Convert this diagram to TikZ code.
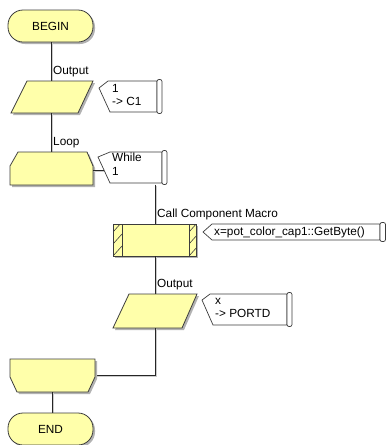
\documentclass[tikz,border=0pt]{standalone}
\usepackage{fontspec}
\setmainfont{Liberation Sans}
\definecolor{flowyellow}{RGB}{255,255,170}
\definecolor{edgegray}{RGB}{60,60,60}
\begin{document}
\begin{tikzpicture}[x=1pt,y=-1pt,
  shapebox/.style={draw=edgegray, line width=0.8pt, fill=flowyellow,
    preaction={fill=black!30, transform canvas={shift={(2pt,-2pt)}}}},
  commentbox/.style={draw=edgegray, line width=0.7pt, fill=white},
  capbox/.style={draw=edgegray, line width=0.7pt, fill=white, rounded corners=2pt},
  flowline/.style={draw=black!85, line width=0.8pt,
    preaction={draw=black!20, transform canvas={shift={(1pt,-1pt)}}}},
  lbl/.style={font=\fontsize{11.8}{13.5}\selectfont, inner sep=0pt, anchor=west},
  txt/.style={font=\fontsize{11.8}{13.5}\selectfont, inner sep=0pt, align=left, anchor=north west},
  hatch/.style={draw=edgegray, line width=0.6pt}]
\useasboundingbox (0,0) rectangle (387,445);

% ---- BEGIN
\draw[shapebox, rounded corners=15pt] (8,10) rectangle (93,42);
\node[font=\fontsize{11.8}{13.5}\selectfont] (begin) at (50.5,26) {BEGIN};
\coordinate (c1) at (51,42);
\coordinate (c2) at (51,81);
\draw[flowline] (c1) -- (c2);
\node[lbl] (lout1) at (53,72) {Output};

% ---- Output 1
\draw[shapebox] (27,81) -- (93,81) -- (78,113) -- (11,113) -- cycle;
\draw[commentbox] (108,81) -- (157,81) -- (157,112) -- (110,112) -- (99,88) -- cycle;
\draw[capbox] (157,79.5) rectangle (162,113.5);
\node[txt] (com1) at (112,84) {1\\-> C1};

% ---- to Loop
\coordinate (c3) at (51,113);
\coordinate (c4) at (51,152);
\draw[flowline] (c3) -- (c4);
\node[lbl] (lloop) at (53,143) {Loop};

% ---- Loop start
\draw[shapebox] (18,152) -- (87,152) -- (93,166) -- (93,185) -- (10,185) -- (10,166) -- cycle;
\coordinate (lc1) at (93,170);
\coordinate (lc2) at (104,170);
\draw[flowline] (lc1) -- (lc2);
\draw[commentbox] (110,152) -- (162,152) -- (162,183) -- (110,183) -- (98,157) -- cycle;
\draw[capbox] (162,150.5) rectangle (167,184.5);
\node[txt] (com2) at (112,153) {While\\1};

% ---- to Call
\coordinate (c5) at (155,184.5);
\coordinate (c6) at (155,224);
\draw[flowline] (c5) -- (c6);
\node[lbl] (lcall) at (157,214) {Call Component Macro};

% ---- Call component macro
\draw[shapebox] (113,224) rectangle (196,256);
\begin{scope}
  \clip (113,224) rectangle (122,256);
  \foreach \yy in {232,244,256,268} \draw[hatch] (113,\yy) -- (122,\yy-10);
\end{scope}
\begin{scope}
  \clip (189,224) rectangle (196,256);
  \foreach \yy in {232,244,256,268} \draw[hatch] (189,\yy) -- (198,\yy-10);
\end{scope}
\draw[draw=edgegray, line width=0.8pt] (122,224) -- (122,256) (189,224) -- (189,256);
\draw[commentbox] (212,224) -- (380,224) -- (380,240) -- (212,240) -- (203,232) -- cycle;
\draw[capbox] (380,222.5) rectangle (385.5,241.5);
\node[lbl] (com3) at (214,232.5) {x=pot\_color\_cap1::GetByte()};

% ---- to Output 2
\coordinate (c7) at (155,256);
\coordinate (c8) at (155,294);
\draw[flowline] (c7) -- (c8);
\node[lbl] (lout2) at (157,285) {Output};

% ---- Output 2
\draw[shapebox] (129,294) -- (197,294) -- (182,328) -- (113,328) -- cycle;
\draw[commentbox] (210,294) -- (287,294) -- (287,325) -- (213,325) -- (202,300) -- cycle;
\draw[capbox] (287,292.5) rectangle (292,326.5);
\node[txt] (com4) at (215,298) {x\\-> PORTD};

% ---- back to loop end
\coordinate (c9) at (155,328);
\coordinate (c10) at (155,375);
\coordinate (c11) at (95,375);
\draw[flowline] (c9) -- (c10) -- (c11);

% ---- Loop end
\draw[shapebox] (10,359) -- (95,359) -- (95,377) -- (88,392) -- (17,392) -- (10,377) -- cycle;
\coordinate (c12) at (52,392);
\coordinate (c13) at (52,413);
\draw[flowline] (c12) -- (c13);

% ---- END
\draw[shapebox, rounded corners=15pt] (8,413) rectangle (93,445);
\node[font=\fontsize{11.8}{13.5}\selectfont] (endn) at (50.5,429) {END};
\end{tikzpicture}
\end{document}
